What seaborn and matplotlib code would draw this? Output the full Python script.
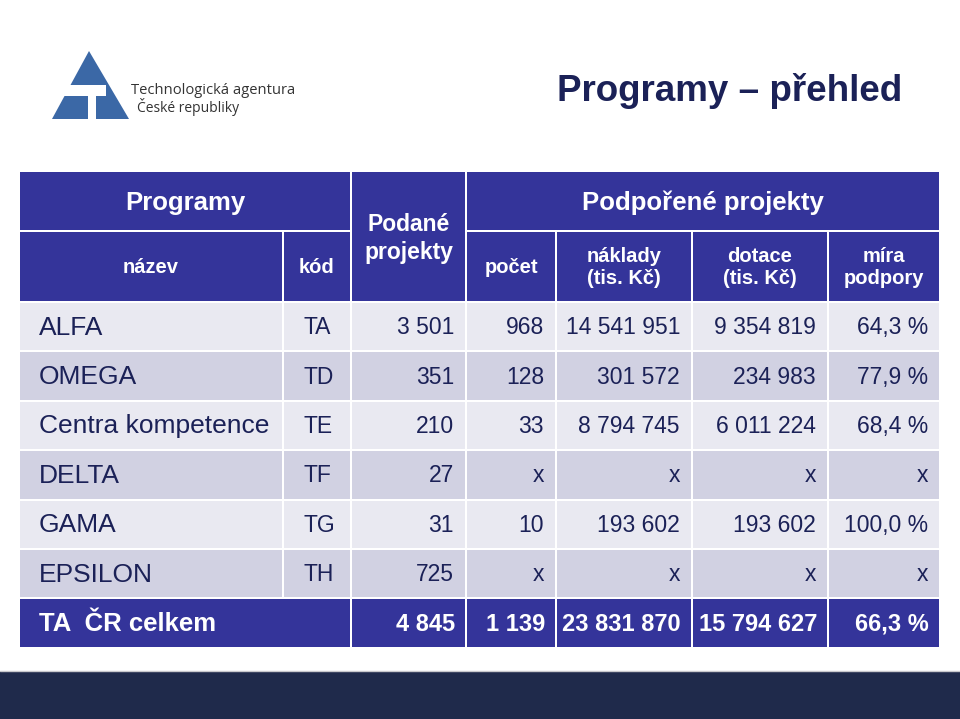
import numpy as np
import pandas as pd
import matplotlib.pyplot as plt
import matplotlib.patches as mpatches
import seaborn as sns

# data
names = ["ALFA", "OMEGA", "Centra kompetence", "DELTA", "GAMA", "EPSILON"]
codes = ["TA", "TD", "TE", "TF", "TG", "TH"]
podane = [3501, 351, 210, 27, 31, 725]
pocet = [968, 128, 33, None, 10, None]
naklady = [14541951, 301572, 8794745, None, 193602, None]
dotace = [9354819, 234983, 6011224, None, 193602, None]
mira = [64.3, 77.9, 68.4, None, 100.0, None]
total_label = "TA  ČR celkem"
total_vals = [4845, 1139, 23831870, 15794627, 66.3]

title = "Programy – přehled"

sns.set_theme(style="white")
plt.rcParams['font.family'] = ['Liberation Sans', 'DejaVu Sans']

HEAD = "#34349a"
ROW_A = "#e9e9f1"
ROW_B = "#d1d1e2"
TXT = "#1b2157"


def fmt_int(v):
    if v is None:
        return "x"
    return f"{v:,}".replace(",", " ")


def fmt_pct(v):
    if v is None:
        return "x"
    return f"{v:.1f}".replace(".", ",") + " %"


df = pd.DataFrame({
    "nazev": names, "kod": codes,
    "podane": [fmt_int(v) for v in podane],
    "pocet": [fmt_int(v) for v in pocet],
    "naklady": [fmt_int(v) for v in naklady],
    "dotace": [fmt_int(v) for v in dotace],
    "mira": [fmt_pct(v) for v in mira],
})

# layout in pixels
xe = [19, 283, 351, 466, 556, 692, 828, 940]
y_head = [171, 231, 302]
row_h = 49.4
gap = 2

fig = plt.figure(figsize=(9.6, 7.19), dpi=100)
ax = fig.add_axes([0, 0, 1, 1])
ax.set_xlim(0, 960)
ax.set_ylim(719, 0)
ax.axis("off")


def cell(x0, x1, y0, y1, color):
    ax.add_patch(mpatches.Rectangle((x0 + gap / 2, y0 + gap / 2), x1 - x0 - gap, y1 - y0 - gap,
                                    facecolor=color, edgecolor="none"))


# header cells
cell(xe[0], xe[2], y_head[0], y_head[1], HEAD)
cell(xe[0], xe[1], y_head[1], y_head[2], HEAD)
cell(xe[1], xe[2], y_head[1], y_head[2], HEAD)
cell(xe[2], xe[3], y_head[0], y_head[2], HEAD)
cell(xe[3], xe[7], y_head[0], y_head[1], HEAD)
for i in range(3, 7):
    cell(xe[i], xe[i + 1], y_head[1], y_head[2], HEAD)


def mid(a, b):
    return (a + b) / 2


hy1 = mid(y_head[0], y_head[1]) + 2
hy2 = mid(y_head[1], y_head[2]) + 1
ax.text(mid(xe[0], xe[2]), hy1, "Programy", color="white", fontsize=18.5, fontweight="bold",
        ha="center", va="center")
ax.text(mid(xe[3], xe[7]), hy1, "Podpořené projekty", color="white", fontsize=18.5,
        fontweight="bold", ha="center", va="center")
ax.text(mid(xe[2], xe[3]), mid(y_head[0], y_head[2]) + 2, "Podané\nprojekty", color="white",
        fontsize=16.5, fontweight="bold", ha="center", va="center", linespacing=1.28)
sub = ["název", "kód", None, "počet", "náklady\n(tis. Kč)", "dotace\n(tis. Kč)", "míra\npodpory"]
for i, s in enumerate(sub):
    if s is None:
        continue
    ax.text(mid(xe[i], xe[i + 1]), hy2, s, color="white", fontsize=14.5, fontweight="bold",
            ha="center", va="center", linespacing=1.25)

# body rows
cols = ["podane", "pocet", "naklady", "dotace", "mira"]
for r, row in df.iterrows():
    y0 = y_head[2] + r * row_h
    y1 = y0 + row_h
    color = ROW_A if r % 2 == 0 else ROW_B
    for i in range(7):
        cell(xe[i], xe[i + 1], y0, y1, color)
    yc = mid(y0, y1) + 1
    ax.text(xe[0] + 20, yc, row["nazev"], color=TXT, fontsize=19, ha="left", va="center")
    ax.text(xe[1] + 20, yc, row["kod"], color=TXT, fontsize=16.5, ha="left", va="center")
    for j, c in enumerate(cols):
        ax.text(xe[j + 3] - 12, yc, row[c], color=TXT, fontsize=16.5, ha="right", va="center")

# total row
y0 = y_head[2] + len(df) * row_h
y1 = y0 + row_h
cell(xe[0], xe[2], y0, y1, HEAD)
for i in range(2, 7):
    cell(xe[i], xe[i + 1], y0, y1, HEAD)
yc = mid(y0, y1) + 1
ax.text(xe[0] + 20, yc, total_label, color="white", fontsize=18.5, fontweight="bold",
        ha="left", va="center")
tot_txt = [fmt_int(v) for v in total_vals[:4]] + [fmt_pct(total_vals[4])]
for j, t in enumerate(tot_txt):
    ax.text(xe[j + 3] - 11, yc, t, color="white", fontsize=17, fontweight="bold",
            ha="right", va="center")

# title
ax.text(902, 91, title, color=TXT, fontsize=26.5, fontweight="bold", ha="right", va="center")

# logo
LOGO = "#3b68a6"
ax.add_patch(mpatches.Polygon([(89, 51), (129, 119), (52, 119)], closed=True,
                              facecolor=LOGO, edgecolor="none"))
ax.add_patch(mpatches.Rectangle((50, 85), 56, 11, facecolor="white", edgecolor="none"))
ax.add_patch(mpatches.Rectangle((88, 85), 8, 36, facecolor="white", edgecolor="none"))
ax.text(131, 90, "Technologická agentura", color="#333333", fontsize=10.6,
        ha="left", va="center", family=['Open Sans', 'DejaVu Sans'])
ax.text(137, 107, "České republiky", color="#333333", fontsize=10,
        ha="left", va="center", family=['Open Sans', 'DejaVu Sans'])

# footer band
ax.add_patch(mpatches.Rectangle((0, 671), 960, 48, facecolor="#1f2a4b", edgecolor="none"))
ax.plot([0, 960], [670.5, 670.5], color="#c8c8cc", lw=1)

fig.savefig("out.png", dpi=100)
